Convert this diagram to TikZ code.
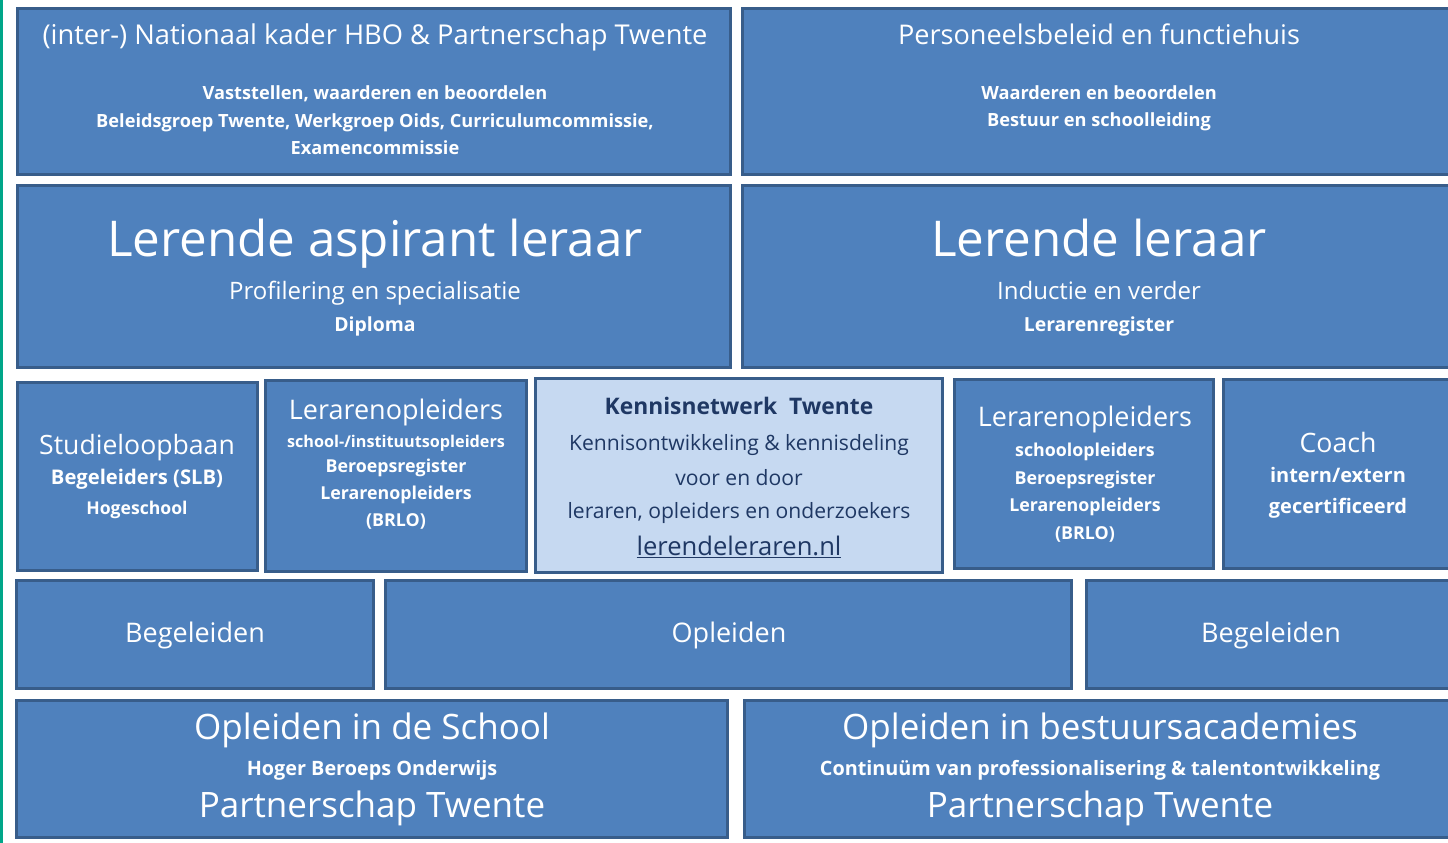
\documentclass[tikz,border=0pt]{standalone}
\usepackage{fontspec}
\setmainfont{Open Sans}
\definecolor{boxfill}{RGB}{79,129,189}
\definecolor{boxline}{RGB}{56,93,138}
\definecolor{lightfill}{RGB}{198,217,241}
\definecolor{navy}{RGB}{31,56,100}
\definecolor{teal}{RGB}{0,166,137}
\newcommand{\fs}[1]{\fontsize{#1}{#1}\selectfont}
\tikzset{
  box/.style={draw=boxline, line width=3pt, fill=boxfill},
  lbox/.style={draw=boxline, line width=3pt, fill=lightfill},
  txt/.style={text=white, inner sep=0pt, anchor=base, yshift={-0.34*#1pt}, font={\fs{#1}}},
  txtb/.style={text=white, inner sep=0pt, anchor=base, yshift={-0.34*#1pt}, font={\fs{#1}\bfseries}},
  ntxt/.style={text=navy, inner sep=0pt, anchor=base, yshift={-0.34*#1pt}, font={\fs{#1}}},
  ntxtb/.style={text=navy, inner sep=0pt, anchor=base, yshift={-0.34*#1pt}, font={\fs{#1}\bfseries}},
}
\begin{document}
\begin{tikzpicture}[x=1pt,y=-1pt]
\useasboundingbox (0,0) rectangle (1448,843);
\clip (0,0) rectangle (1448,843);
\fill[teal] (0,0) rectangle (3,843);
% row 1
\draw[box] (17.5,8.5) rectangle (730.5,174.5) coordinate (a1);
\draw[box] (742.5,8.5) rectangle (1460,174.5) coordinate (a2);
\node[txt=27.3] (t1) at (375,35) {(inter-) Nationaal kader HBO \& Partnerschap Twente};
\node[txtb=18.2] (t1a) at (375,93) {Vaststellen, waarderen en beoordelen};
\node[txtb=18.2] (t1b) at (375,121) {Beleidsgroep Twente, Werkgroep Oids, Curriculumcommissie,};
\node[txtb=18.2] (t1c) at (375,148) {Examencommissie};
\node[txt=27.1] (t2) at (1099,35) {Personeelsbeleid en functiehuis};
\node[txtb=18.2] (t2a) at (1099,93) {Waarderen en beoordelen};
\node[txtb=18.2] (t2b) at (1099,120) {Bestuur en schoolleiding};
% row 2
\draw[box] (17.5,185.5) rectangle (730.5,367.5) coordinate (b1);
\draw[box] (742.5,185.5) rectangle (1460,367.5) coordinate (b2);
\node[txt=49.3] (t3) at (375,240) {Lerende aspirant leraar};
\node[txt=24] (t3a) at (375,291) {Profilering en specialisatie};
\node[txtb=19.4] (t3b) at (375,325) {Diploma};
\node[txt=49.3] (t4) at (1099,240) {Lerende leraar};
\node[txt=24] (t4a) at (1099,291) {Inductie en verder};
\node[txtb=19.4] (t4b) at (1099,325) {Lerarenregister};
% row 3
\draw[box] (17.5,382.5) rectangle (257.5,570.5) coordinate (c1);
\node[txt=26.6] (t5) at (137,445) {Studieloopbaan};
\node[txtb=20.2] (t5a) at (137,478) {Begeleiders (SLB)};
\node[txtb=17.6] (t5b) at (137,509) {Hogeschool};
\draw[box] (265.5,380.5) rectangle (526.5,571.5) coordinate (c2);
\node[txt=27] (t6) at (396,410) {Lerarenopleiders};
\node[txtb=16.2] (t6a) at (396,442) {school-/instituutsopleiders};
\node[txtb=17.8] (t6b) at (396,466) {Beroepsregister};
\node[txtb=17.8] (t6c) at (396,493) {Lerarenopleiders};
\node[txtb=17.8] (t6d) at (396,520) {(BRLO)};
\draw[lbox] (535.5,378.5) rectangle (942.5,572.5) coordinate (c3);
\node[ntxtb=22.8] (t7) at (739,407) {Kennisnetwerk\ \ Twente};
\node[ntxt=21.1] (t7a) at (739,443) {Kennisontwikkeling \& kennisdeling};
\node[ntxt=21.1] (t7b) at (739,478) {voor en door};
\node[ntxt=21.1] (t7c) at (739,511) {leraren, opleiders en onderzoekers};
\node[ntxt=25.6] (t7d) at (739,547) {\underline{lerendeleraren.nl}};
\draw[box] (954.5,379.5) rectangle (1213.5,568.5) coordinate (c4);
\node[txt=27] (t8) at (1085,417) {Lerarenopleiders};
\node[txtb=17.8] (t8a) at (1085,450) {schoolopleiders};
\node[txtb=17.8] (t8b) at (1085,478) {Beroepsregister};
\node[txtb=17.8] (t8c) at (1085,505) {Lerarenopleiders};
\node[txtb=17.8] (t8d) at (1085,533) {(BRLO)};
\draw[box] (1223.5,379.5) rectangle (1460,568.5) coordinate (c5);
\node[txt=26.7] (t9) at (1338,443) {Coach};
\node[txtb=20] (t9a) at (1338,476) {intern/extern};
\node[txtb=20] (t9b) at (1338,507) {gecertificeerd};
% row 4
\draw[box] (16.5,580.5) rectangle (373.5,688.5) coordinate (d1);
\node[txt=27] (t10) at (195,633) {Begeleiden};
\draw[box] (385.5,580.5) rectangle (1071.5,688.5) coordinate (d2);
\node[txt=27] (t11) at (729,633) {Opleiden};
\draw[box] (1086.5,580.5) rectangle (1460,688.5) coordinate (d3);
\node[txt=27] (t12) at (1271,633) {Begeleiden};
% row 5
\draw[box] (16.5,700.5) rectangle (727.5,837.5) coordinate (e1);
\node[txt=35] (t13) at (372,728) {Opleiden in de School};
\node[txtb=19.8] (t13a) at (372,769) {Hoger Beroeps Onderwijs};
\node[txt=35] (t13b) at (372,806) {Partnerschap Twente};
\draw[box] (744.5,700.5) rectangle (1460,837.5) coordinate (e2);
\node[txt=35] (t14) at (1100,728) {Opleiden in bestuursacademies};
\node[txtb=19.8] (t14a) at (1100,769) {Continuüm van professionalisering \& talentontwikkeling};
\node[txt=35] (t14b) at (1100,806) {Partnerschap Twente};
\end{tikzpicture}
\end{document}
